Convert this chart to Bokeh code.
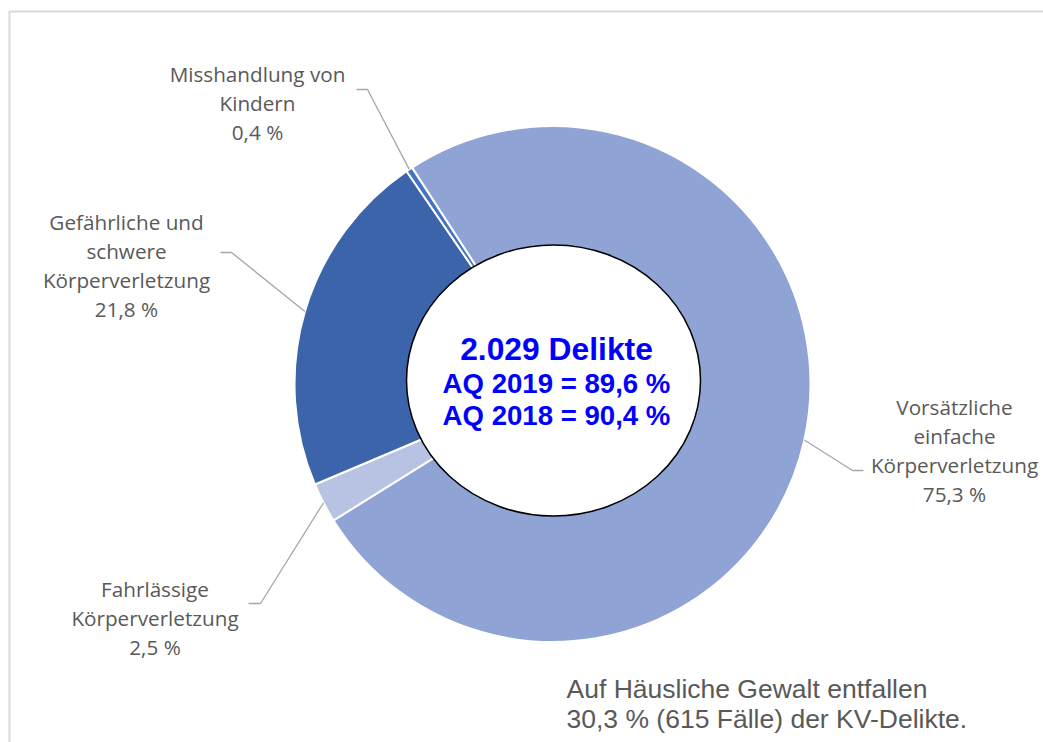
import math
from bokeh.plotting import figure
from bokeh.models import Range1d
from bokeh.core.properties import value
from bokeh.embed import file_html
from bokeh.resources import INLINE

# ---- data ----
categories = ["Vorsätzliche einfache Körperverletzung",
              "Fahrlässige Körperverletzung",
              "Gefährliche und schwere Körperverletzung",
              "Misshandlung von Kindern"]
shares = [75.3, 2.5, 21.8, 0.4]
share_labels = ["75,3 %", "2,5 %", "21,8 %", "0,4 %"]
label_lines = [["Vorsätzliche", "einfache", "Körperverletzung"],
               ["Fahrlässige", "Körperverletzung"],
               ["Gefährliche und", "schwere", "Körperverletzung"],
               ["Misshandlung von", "Kindern"]]
center_lines = ["2.029 Delikte", "AQ 2019 = 89,6 %", "AQ 2018 = 90,4 %"]
note_lines = ["Auf Häusliche Gewalt entfallen",
              "30,3 % (615 Fälle) der KV-Delikte."]

# ---- style / layout ----
colors = ["#8FA3D4", "#B8C2E2", "#3C64AB", "#4472C4"]
W, H = 1043, 742
def Y(py):
    return H - py

CX, CY = 552, Y(383.5)
R_OUT, R_IN = 258, 120
FIRST_ANGLE = 327.0  # degrees clockwise from 12 o'clock

p = figure(width=W, height=H, x_range=Range1d(0, W), y_range=Range1d(0, H),
           output_backend="svg", toolbar_location=None, min_border=0)
p.axis.visible = False
p.grid.visible = False
p.outline_line_color = None
p.background_fill_color = "white"
p.border_fill_color = "white"

# frame (top and left edges visible)
p.line([9, W], [Y(11), Y(11)], line_color="#D9D9D9", line_width=2)
p.line([9, 9], [Y(11), Y(H)], line_color="#D9D9D9", line_width=2)

total = sum(shares)
starts, ends, mids = [], [], []
acc = FIRST_ANGLE
for s in shares:
    th0 = acc
    th1 = acc + s / total * 360.0
    starts.append(math.radians(90 - th0))
    ends.append(math.radians(90 - th1))
    mids.append((th0 + th1) / 2)
    acc = th1

p.annular_wedge(x=[CX] * 4, y=[CY] * 4, inner_radius=R_IN, outer_radius=R_OUT,
                start_angle=starts, end_angle=ends, direction="clock",
                fill_color=colors, line_color="white", line_width=2)

# inner white ellipse
p.ellipse(x=[553], y=[Y(380)], width=294, height=271,
          fill_color="white", line_color="black", line_width=1.5)

# leader lines
elbows = [((852, 470), (863, 470)), ((260, 603), (248, 603)),
          ((231, 252), (220, 252)), ((367, 89), (356, 89))]
for th, (e1, e2) in zip(mids, elbows):
    sx = CX + R_OUT * math.sin(math.radians(th))
    sy = CY + R_OUT * math.cos(math.radians(th))
    p.line([sx, e1[0], e2[0]], [sy, Y(e1[1]), Y(e2[1])],
           line_color="#A6A6A6", line_width=1.3)

# data labels
label_centers = [(954, 449.5), (154.5, 617.5), (126, 265), (257, 102)]
LS = 29
for lines, pct, (lx, ly) in zip(label_lines, share_labels, label_centers):
    all_lines = lines + [pct]
    n = len(all_lines)
    ys = [Y(ly + (i - (n - 1) / 2) * LS) for i in range(n)]
    p.text(x=[lx] * n, y=ys, text=all_lines, text_align="center",
           text_baseline="middle", text_font=value("Open Sans"),
           text_font_size=value("20.7px"), text_color="#595959")

# center text
p.text(x=[556], y=[Y(348)], text=[center_lines[0]], text_align="center",
       text_baseline="middle", text_font=value("Liberation Sans"),
       text_font_style="bold", text_font_size=value("31.8px"), text_color="#0000FF")
p.text(x=[556, 556], y=[Y(383), Y(415)], text=center_lines[1:], text_align="center",
       text_baseline="middle", text_font=value("Liberation Sans"),
       text_font_style="bold", text_font_size=value("27.6px"), text_color="#0000FF")

# note
p.text(x=[566, 566], y=[Y(688), Y(718)], text=note_lines, text_align="left",
       text_baseline="middle", text_font=value("Liberation Sans"),
       text_font_size=value("26.5px"), text_color="#595959")

open("out.html", "w").write(file_html(p, INLINE))
